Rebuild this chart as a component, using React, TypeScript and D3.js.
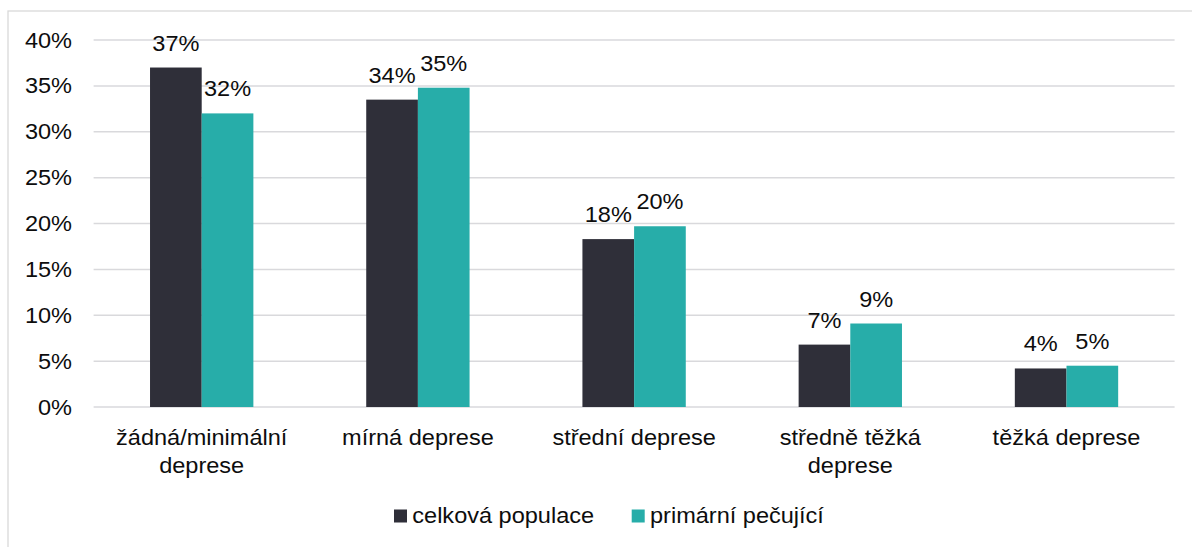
import React from "react";
import * as d3 from "d3";

const categories = [
  "žádná/minimální\ndeprese",
  "mírná deprese",
  "střední deprese",
  "středně těžká\ndeprese",
  "těžká deprese",
];
const seriesNames = ["celková populace", "primární pečující"];
const celkova = [37.0, 33.5, 18.3, 6.8, 4.2];
const pecujici = [32.0, 34.8, 19.7, 9.1, 4.5];
const yTicks = [0, 5, 10, 15, 20, 25, 30, 35, 40];
const colors = ["#2F2F39", "#27ADA9"];

const W = 1192;
const H = 547;
const FONT = "'Liberation Sans', Arial, sans-serif";
const FS = 22;
const SX = 1.07;

function T({ x, y, anchor = "middle", children }: { x: number; y: number; anchor?: string; children: React.ReactNode }) {
  return (
    <g transform={`translate(${x},${y}) scale(${SX},1)`}>
      <text x={0} y={0} textAnchor={anchor as any} fontFamily={FONT} fontSize={FS} fill="#0d0d0d">
        {children}
      </text>
    </g>
  );
}

export default function App() {
  const x = d3.scaleBand<string>().domain(categories).range([93.6, 1174.6]).padding(0);
  const y = d3.scaleLinear().domain([0, 40]).range([407, 40]);
  const bw = x.bandwidth() * 0.239;
  const series = [celkova, pecujici];

  return (
    <svg width={W} height={H} style={{ position: "absolute", left: 0, top: 0, background: "#fff" }}>
      <rect x={8} y={11} width={W + 20} height={H + 20} fill="#fff" stroke="#d9d9d9" strokeWidth={1.3} />
      {yTicks.map((t) => (
        <g key={t}>
          <line x1={x.range()[0]} x2={x.range()[1]} y1={y(t)} y2={y(t)} stroke="#d9d9dc" strokeWidth={1.5} />
          <T x={72} y={y(t) + 7.5} anchor="end">{`${t}%`}</T>
        </g>
      ))}
      {categories.map((c, i) => {
        const cx = (x(c) as number) + x.bandwidth() / 2;
        return (
          <g key={c}>
            {series.map((s, k) => {
              const bx = k === 0 ? cx - bw : cx;
              return (
                <g key={k}>
                  <rect x={bx} y={y(s[i])} width={bw} height={y(0) - y(s[i])} fill={colors[k]} />
                  <T x={bx + bw / 2} y={y(s[i]) - 17}>{`${Math.round(s[i])}%`}</T>
                </g>
              );
            })}
            {c.split("\n").map((line, li) => (
              <T key={li} x={cx} y={445 + li * 27.5}>{line}</T>
            ))}
          </g>
        );
      })}
      {seriesNames.map((n, k) => {
        const lx = k === 0 ? 394 : 631.7;
        return (
          <g key={n}>
            <rect x={lx} y={509.5} width={13} height={13} fill={colors[k]} />
            <T x={lx + 18.3} y={523} anchor="start">{n}</T>
          </g>
        );
      })}
    </svg>
  );
}
